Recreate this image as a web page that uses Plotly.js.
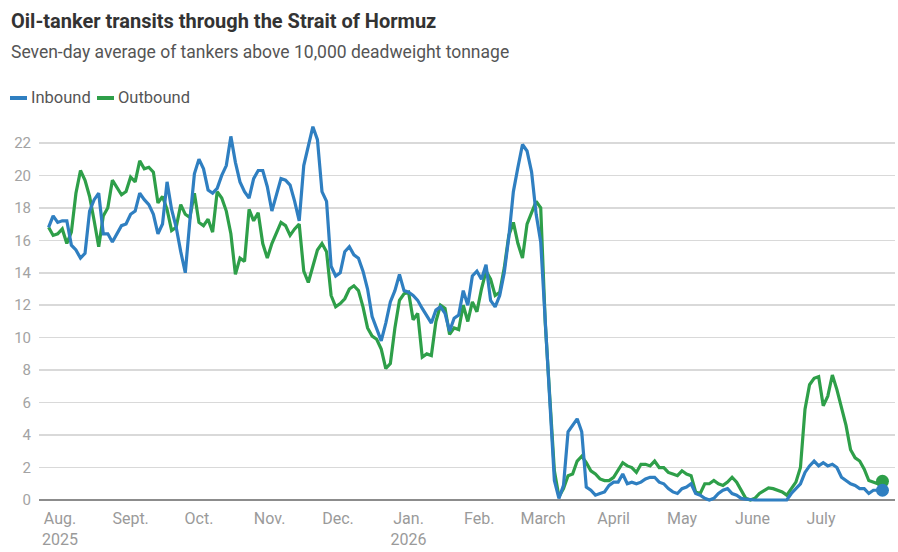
<!DOCTYPE html>
<html>
<head>
<meta charset="utf-8">
<script src="https://cdn.plot.ly/plotly-3.0.1.min.js"></script>
<style>
html,body{margin:0;padding:0;background:#fff;}
#chart{width:898px;height:552px;}
</style>
</head>
<body>
<div id="chart"></div>
<script>
// Series start date and sampling step (every 2 days)
const startDate = '2025-07-27';
const stepDays = 2;

const inbound = [
16.8,17.5,17.1,17.2,17.2,15.7,15.4,14.9,15.2,17.8,
18.5,18.9,16.4,16.4,15.9,16.4,16.9,17.0,17.6,17.8,
18.9,18.5,18.2,17.6,16.4,17.0,19.6,17.9,16.8,15.3,
14.0,17.2,20.1,21.0,20.4,19.1,18.9,19.2,20.0,20.6,
22.4,20.8,19.6,19.0,18.6,19.8,20.3,20.3,19.3,17.8,
18.8,19.8,19.7,19.4,18.4,17.2,20.6,21.8,23.0,22.2,
19.0,18.4,14.4,13.8,14.0,15.3,15.6,15.1,14.9,14.1,
13.0,11.3,10.6,9.8,10.9,12.2,12.9,13.9,12.9,12.8,
12.6,12.3,11.8,11.3,10.9,11.7,11.9,11.5,10.4,11.2,
11.4,12.9,12.0,13.8,14.1,13.6,14.5,12.3,11.9,12.6,
14.0,16.2,19.0,20.5,21.9,21.5,20.2,17.6,15.9,11.0,
6.2,1.2,0.1,0.9,4.2,4.6,5.0,4.2,0.8,0.6,
0.3,0.4,0.5,0.9,1.1,1.1,1.6,1.0,1.1,1.0,
1.1,1.3,1.4,1.4,1.1,1.0,0.7,0.5,0.4,0.7,
0.8,1.0,0.4,0.3,0.1,0.0,0.1,0.4,0.6,0.7,
0.4,0.3,0.1,0.05,0,0,0,0,0,0,
0,0,0,0.4,0.7,1.0,1.7,2.1,2.4,2.1,
2.3,2.1,2.2,2.0,1.4,1.2,1.0,0.9,0.7,0.7,
0.4,0.6,0.6,0.6
];

const outbound = [
16.8,16.3,16.4,16.7,15.8,16.5,18.9,20.3,19.7,18.7,
17.2,15.6,17.5,18.0,19.7,19.2,18.8,19.0,19.9,19.6,
20.9,20.4,20.5,20.2,18.3,18.7,17.9,16.6,16.8,18.2,
17.6,17.4,18.9,17.1,16.9,17.3,16.5,19.0,18.6,17.8,
16.4,13.9,14.9,14.7,17.9,17.2,17.7,15.8,14.9,15.8,
16.5,17.1,16.9,16.3,16.7,17.0,14.1,13.4,14.4,15.4,
15.8,15.3,12.6,11.9,12.1,12.4,13.0,13.2,12.9,11.9,
10.6,10.1,9.9,9.3,8.1,8.4,10.6,12.3,12.7,12.8,
11.1,11.5,8.8,9.0,8.9,11.0,12.0,11.8,10.2,10.6,
10.5,12.0,11.0,12.2,11.6,13.0,14.1,13.6,12.6,12.8,
14.3,16.3,17.1,15.8,14.9,17.0,17.7,18.4,18.0,10.9,
6.3,1.8,0.2,0.7,1.5,1.6,2.4,2.7,2.3,1.8,
1.6,1.3,1.2,1.2,1.4,1.9,2.3,2.1,2.0,1.7,
2.2,2.2,2.1,2.4,2.0,2.0,1.7,1.6,1.5,1.8,
1.6,1.5,0.5,0.4,1.0,1.0,1.2,1.0,0.9,1.1,
1.4,1.1,0.6,0.1,0.0,0.1,0.4,0.6,0.75,0.7,
0.6,0.5,0.3,0.7,1.1,2.0,5.6,7.1,7.5,7.6,
5.8,6.4,7.7,6.8,5.6,4.6,3.1,2.6,2.4,1.9,
1.2,1.1,1.0,1.15
];

const monthTicks = ['2025-08-01','2025-09-01','2025-10-01','2025-11-01','2025-12-01','2026-01-01',
                    '2026-02-01','2026-03-01','2026-04-01','2026-05-01','2026-06-01','2026-07-01'];
const monthLabels = ['Aug.<br>2025','Sept.','Oct.','Nov.','Dec.','Jan.<br>2026',
                     'Feb.','March','April','May','June','July'];
const yTicks = [0,2,4,6,8,10,12,14,16,18,20,22];
const seriesNames = ['Inbound','Outbound'];

// build dates
function buildDates(n){
  const out = [];
  const d0 = new Date(startDate + 'T00:00:00Z');
  for (let i = 0; i < n; i++){
    const d = new Date(d0.getTime() + i*stepDays*86400000);
    out.push(d.toISOString().slice(0,10));
  }
  return out;
}
const dates = buildDates(inbound.length);

const BLUE = '#2f7fc1';
const GREEN = '#2e9f49';
const FONT = 'Roboto, "Open Sans", sans-serif';

const last = dates.length - 1;
const traces = [
  {x: dates, y: outbound, type:'scatter', mode:'lines', name: seriesNames[1],
   line:{color:GREEN, width:3.2}, hoverinfo:'skip', cliponaxis:false},
  {x: dates, y: inbound, type:'scatter', mode:'lines', name: seriesNames[0],
   line:{color:BLUE, width:3.2}, hoverinfo:'skip', cliponaxis:false},
  {x: [dates[last]], y: [outbound[last]], type:'scatter', mode:'markers',
   marker:{color:GREEN, size:13}, showlegend:false, cliponaxis:false, hoverinfo:'skip'},
  {x: [dates[last]], y: [inbound[last]], type:'scatter', mode:'markers',
   marker:{color:BLUE, size:13}, showlegend:false, cliponaxis:false, hoverinfo:'skip'}
];

// plot area: x 39..895, y 120..504
const L = 39, R = 895, T = 120, B = 504;
const px = v => (v - L)/(R - L);
const py = v => (B - v)/(B - T);

const layout = {
  width: 898, height: 552,
  margin: {l: L, r: 898 - R, t: T, b: 552 - B},
  paper_bgcolor: '#fff', plot_bgcolor: '#fff',
  showlegend: false,
  font: {family: FONT, color: '#555'},
  xaxis: {
    type: 'date',
    range: ['2025-07-22 19:00', '2026-08-02 12:00'],
    tickvals: monthTicks, ticktext: monthLabels,
    showgrid: false, zeroline: false, showline: false, ticks: '',
    ticklabelstandoff: 3,
    tickfont: {family: FONT, size: 16, color: '#9a9a9a'},
    fixedrange: true
  },
  yaxis: {
    range: [-0.246, 23.41],
    tickvals: yTicks, ticktext: yTicks.map(String),
    showgrid: true, gridcolor: '#d9d9d9', gridwidth: 1.5,
    zeroline: true, zerolinecolor: '#8c8c8c', zerolinewidth: 1.5,
    showline: false, ticks: '',
    ticklabelstandoff: 7,
    tickfont: {family: FONT, size: 15, color: '#a3a3a3'},
    fixedrange: true
  },
  shapes: [
    {type:'line', xref:'paper', yref:'paper', x0: px(10), x1: px(27), y0: py(98), y1: py(98),
     line:{color: BLUE, width: 4}},
    {type:'line', xref:'paper', yref:'paper', x0: px(97), x1: px(114), y0: py(98), y1: py(98),
     line:{color: GREEN, width: 4}}
  ],
  annotations: [
    {text: '<b>Oil-tanker transits through the Strait of Hormuz</b>', xref:'paper', yref:'paper',
     x: px(9), y: py(21), xanchor:'left', yanchor:'middle', showarrow:false,
     font:{family: FONT, size: 20, color:'#333'}},
    {text: 'Seven-day average of tankers above 10,000 deadweight tonnage', xref:'paper', yref:'paper',
     x: px(9), y: py(52), xanchor:'left', yanchor:'middle', showarrow:false,
     font:{family: FONT, size: 17.5, color:'#555'}},
    {text: seriesNames[0], xref:'paper', yref:'paper', x: px(29), y: py(98),
     xanchor:'left', yanchor:'middle', showarrow:false, font:{family: FONT, size: 16.5, color:'#555'}},
    {text: seriesNames[1], xref:'paper', yref:'paper', x: px(116), y: py(98),
     xanchor:'left', yanchor:'middle', showarrow:false, font:{family: FONT, size: 16.5, color:'#555'}}
  ]
};

Plotly.newPlot('chart', traces, layout, {displayModeBar:false, staticPlot:true});
</script>
</body>
</html>
